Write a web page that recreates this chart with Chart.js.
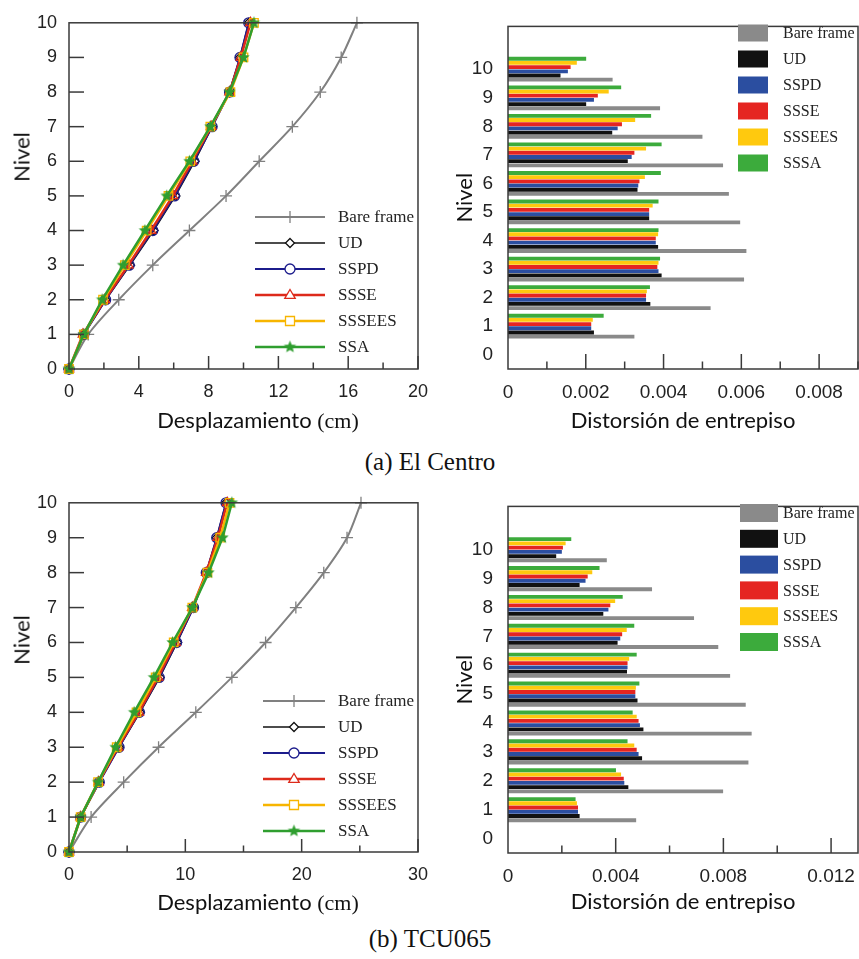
<!DOCTYPE html>
<html>
<head>
<meta charset="utf-8">
<script src="https://cdn.jsdelivr.net/npm/chart.js"></script>
<style>
  body { margin:0; background:#fff; width:859px; height:959px; position:relative; overflow:hidden; }
  canvas { position:absolute; }
  .yt { position:absolute; font:22px Lato, sans-serif; color:#111; transform:translate(-50%,-50%) rotate(-90deg); white-space:nowrap; }
  .xt { position:absolute; width:400px; text-align:center; font:22px Lato, sans-serif; color:#111; white-space:nowrap; }
  .ser { font-family:"Liberation Serif", serif; }
  .cap { position:absolute; left:230px; width:400px; text-align:center; font:25px "Liberation Serif", serif; color:#111; }
</style>
</head>
<body>
<canvas id="c1" width="440" height="440" style="left:0;top:0"></canvas>
<canvas id="c2" width="419" height="440" style="left:440px;top:0"></canvas>
<canvas id="c3" width="440" height="440" style="left:0;top:480px"></canvas>
<canvas id="c4" width="419" height="440" style="left:440px;top:480px"></canvas>
<div class="yt" style="left:21px;top:157px">Nivel</div>
<div class="yt" style="left:21px;top:640px">Nivel</div>
<div class="xt" style="left:58px;top:406px">Desplazamiento <span class="ser">(cm)</span></div>
<div class="xt" style="left:58px;top:888px">Desplazamiento <span class="ser">(cm)</span></div>
<div class="cap" style="top:448px">(a) El Centro</div>
<div class="cap" style="top:925px">(b) TCU065</div>
<script>
const levels  = [0, 1, 2, 3, 4, 5, 6, 7, 8, 9, 10];
const storeys = [1, 2, 3, 4, 5, 6, 7, 8, 9, 10];
const lineNames = ["Bare frame", "UD", "SSPD", "SSSE", "SSSEES", "SSA"];
const barNames  = ["Bare frame", "UD", "SSPD", "SSSE", "SSSEES", "SSSA"];

// (a) El Centro - desplazamiento (cm) por nivel 0..10
const ecDispBare   = [0, 1.1, 2.85, 4.8, 6.9, 9.0, 10.9, 12.8, 14.4, 15.6, 16.5];
const ecDispUD     = [0, 0.85, 2.1, 3.5, 4.85, 6.1, 7.2, 8.2, 9.2, 9.8, 10.3];
const ecDispSSPD   = [0, 0.85, 2.1, 3.45, 4.8, 6.05, 7.15, 8.2, 9.2, 9.8, 10.3];
const ecDispSSSE   = [0, 0.8, 2.05, 3.4, 4.7, 5.95, 7.05, 8.15, 9.2, 9.85, 10.4];
const ecDispSSSEES = [0, 0.85, 1.95, 3.2, 4.45, 5.7, 6.95, 8.1, 9.25, 10.0, 10.6];
const ecDispSSA    = [0, 0.85, 1.9, 3.1, 4.35, 5.6, 6.9, 8.1, 9.2, 10.0, 10.6];

// (a) El Centro - distorsion de entrepiso, niveles 1..10
const ecDriftBare   = [0.00325, 0.00521, 0.00607, 0.00613, 0.00597, 0.00568, 0.00553, 0.0050, 0.00391, 0.00269];
const ecDriftUD     = [0.00221, 0.00366, 0.00395, 0.00386, 0.00363, 0.00333, 0.00308, 0.00268, 0.00201, 0.00135];
const ecDriftSSPD   = [0.00214, 0.00355, 0.00387, 0.0038, 0.00363, 0.00335, 0.00318, 0.00282, 0.00221, 0.00154];
const ecDriftSSSE   = [0.00214, 0.00355, 0.00384, 0.0038, 0.00363, 0.00338, 0.00325, 0.00293, 0.00231, 0.00161];
const ecDriftSSSEES = [0.00218, 0.00357, 0.00387, 0.00386, 0.00372, 0.00352, 0.00355, 0.00327, 0.00259, 0.00177];
const ecDriftSSSA   = [0.00246, 0.00365, 0.00391, 0.00387, 0.00387, 0.00393, 0.00395, 0.00368, 0.00291, 0.00201];

// (b) TCU065 - desplazamiento (cm)
const tcDispBare   = [0, 1.9, 4.7, 7.7, 10.9, 14.0, 16.9, 19.5, 21.9, 23.9, 25.1];
const tcDispUD     = [0, 1.0, 2.6, 4.3, 6.1, 7.8, 9.3, 10.7, 11.8, 12.7, 13.5];
const tcDispSSPD   = [0, 1.0, 2.6, 4.3, 6.05, 7.75, 9.25, 10.7, 11.8, 12.7, 13.5];
const tcDispSSSE   = [0, 1.0, 2.55, 4.2, 6.0, 7.65, 9.15, 10.6, 11.8, 12.8, 13.6];
const tcDispSSSEES = [0, 1.0, 2.5, 4.1, 5.8, 7.45, 9.0, 10.6, 11.9, 13.0, 13.8];
const tcDispSSA    = [0, 1.0, 2.5, 4.0, 5.6, 7.3, 8.9, 10.6, 12.0, 13.2, 14.0];

// (b) TCU065 - distorsion de entrepiso
const tcDriftBare   = [0.00476, 0.00799, 0.00893, 0.00905, 0.00883, 0.00825, 0.00781, 0.00691, 0.00535, 0.00367];
const tcDriftUD     = [0.00266, 0.00447, 0.00498, 0.00503, 0.00481, 0.00442, 0.00407, 0.00354, 0.00266, 0.00179];
const tcDriftSSPD   = [0.0026, 0.00432, 0.00485, 0.0049, 0.00473, 0.00444, 0.00417, 0.00373, 0.00288, 0.0020];
const tcDriftSSSE   = [0.0026, 0.0043, 0.00478, 0.00485, 0.00473, 0.00444, 0.00424, 0.0038, 0.00296, 0.00204];
const tcDriftSSSEES = [0.00256, 0.0042, 0.00469, 0.00478, 0.00475, 0.0045, 0.00441, 0.00398, 0.00313, 0.00214];
const tcDriftSSSA   = [0.00251, 0.00401, 0.00444, 0.00463, 0.00488, 0.00478, 0.00469, 0.00426, 0.0034, 0.00235];

function starImg(color, r) {
  const c = document.createElement("canvas"), s = Math.ceil(r * 2 + 2);
  c.width = c.height = s;
  const g = c.getContext("2d");
  g.beginPath();
  for (let i = 0; i < 10; i++) {
    const rr = i % 2 ? r * 0.45 : r, a = -Math.PI / 2 + i * Math.PI / 5;
    g.lineTo(s / 2 + rr * Math.cos(a), s / 2 + rr * Math.sin(a));
  }
  g.closePath(); g.fillStyle = color; g.fill();
  return c;
}

const LS = [
  { c:"#808080", w:2,   p:"cross",    r:6,   t:0.3 },
  { c:"#111111", w:1.5, p:"rectRot",  r:4.5, t:0 },
  { c:"#1c1c8c", w:2,   p:"circle",   r:5,   t:0 },
  { c:"#dd2a1b", w:2.5, p:"triangle", r:5.5, t:0 },
  { c:"#f7b500", w:2.5, p:"rect",     r:6,   t:0 },
  { c:"#2f9e2f", w:2.5, p:starImg("#2f9e2f", 6.5), r:6, t:0 },
];
const BC = ["#8a8a8a", "#111111", "#2b4ea0", "#e52521", "#ffc90e", "#3cab3c"];

const TICKF = { family:"'Liberation Sans', Arial, sans-serif" };

// marker for the legends
function mark(ctx, st, x, y, r) {
  ctx.beginPath();
  if (st instanceof HTMLCanvasElement) { ctx.drawImage(st, x - st.width / 2, y - st.height / 2); return; }
  if (st === "cross") { ctx.moveTo(x, y - r); ctx.lineTo(x, y + r); ctx.moveTo(x - r, y); ctx.lineTo(x + r, y); ctx.stroke(); return; }
  if (st === "rectRot") { ctx.moveTo(x, y - r); ctx.lineTo(x + r, y); ctx.lineTo(x, y + r); ctx.lineTo(x - r, y); ctx.closePath(); }
  if (st === "circle") ctx.arc(x, y, r, 0, Math.PI * 2);
  if (st === "triangle") { ctx.moveTo(x, y - r); ctx.lineTo(x + r * 0.95, y + r * 0.6); ctx.lineTo(x - r * 0.95, y + r * 0.6); ctx.closePath(); }
  if (st === "rect") { const h = r * 0.75; ctx.rect(x - h, y - h, 2 * h, 2 * h); }
  ctx.fillStyle = "#fff"; ctx.fill(); ctx.stroke();
}

const frameTicks = {
  id: "frameTicks",
  afterDraw(chart, args, o) {
    const { ctx, chartArea: a, scales } = chart;
    ctx.save();
    ctx.strokeStyle = "#3a3a3a"; ctx.lineWidth = 1.5;
    ctx.strokeRect(a.left, a.top, a.right - a.left, a.bottom - a.top);
    const xs = scales.x, n = Math.floor((xs.max - xs.min) / o.xMinor + 1e-6), every = Math.round(o.xMajor / o.xMinor);
    for (let i = 1; i <= n; i++) {
      const px = xs.getPixelForValue(xs.min + i * o.xMinor), len = i % every === 0 ? o.xLen : o.xLen / 2;
      ctx.beginPath(); ctx.moveTo(px, a.bottom); ctx.lineTo(px, a.bottom - len); ctx.stroke();
    }
    if (o.yLen) {
      const ys = scales.y;
      for (let v = ys.min + 1; v < ys.max; v++) {
        const py = ys.getPixelForValue(v);
        ctx.beginPath(); ctx.moveTo(a.left, py); ctx.lineTo(a.left + o.yLen, py); ctx.stroke();
      }
    }
    // legend
    const L = o.legend, ds = chart.data.datasets;
    const idx = L.kind === "box" ? ds.map((d, i) => i).reverse() : ds.map((d, i) => i);
    ctx.textBaseline = "middle"; ctx.textAlign = "left";
    ctx.font = L.font; ctx.fillStyle = "#222";
    idx.forEach((di, k) => {
      const y = L.y0 + k * L.dy, d = ds[di];
      if (L.kind === "box") {
        ctx.fillStyle = d.backgroundColor;
        ctx.fillRect(L.x0, y - L.bh / 2, L.bw, L.bh);
      } else {
        const s = LS[di];
        ctx.strokeStyle = s.c; ctx.lineWidth = s.w;
        ctx.beginPath(); ctx.moveTo(L.x0, y); ctx.lineTo(L.x1, y); ctx.stroke();
        ctx.lineWidth = 1.3;
        mark(ctx, s.p, (L.x0 + L.x1) / 2, y, s.r);
      }
      ctx.fillStyle = "#222";
      ctx.fillText(d.label, L.tx, y + 1);
    });
    ctx.restore();
  }
};

function lineChart(id, arrays, xMax, xStep, xMinor, pad, xH, legend) {
  return new Chart(document.getElementById(id), {
    type: "scatter",
    data: { datasets: arrays.map((arr, i) => ({
      label: lineNames[i],
      data: levels.map((lv, k) => ({ x: arr[k], y: lv })),
      showLine: true, borderColor: LS[i].c, borderWidth: LS[i].w, tension: LS[i].t,
      pointStyle: LS[i].p, pointRadius: LS[i].r, pointBorderColor: LS[i].c, pointBorderWidth: 1.3,
      pointBackgroundColor: "rgba(255,255,255,0)", order: 5 - i, clip: false,
    })) },
    options: {
      responsive: false, animation: false, events: [],
      layout: { padding: pad },
      plugins: { legend: { display: false }, tooltip: { enabled: false },
        frameTicks: { xMajor: xStep, xMinor, xLen: 13, yLen: 15, legend } },
      scales: {
        x: { type: "linear", min: 0, max: xMax, afterFit: s => { s.height = xH; },
             grid: { display: false, drawTicks: false }, border: { display: false },
             ticks: { stepSize: xStep, padding: 12, color: "#222", maxRotation: 0, font: { ...TICKF, size: 18 } } },
        y: { type: "linear", min: 0, max: 10, afterFit: s => { s.width = 69; },
             grid: { display: false, drawTicks: false }, border: { display: false },
             ticks: { stepSize: 1, padding: 12, color: "#222", font: { ...TICKF, size: 18 } } },
      },
    },
    plugins: [frameTicks],
  });
}

function barChart(id, arrays, xMax, xStep, pad, xH, legend, titlePad) {
  const order = [5, 4, 3, 2, 1, 0];
  return new Chart(document.getElementById(id), {
    type: "bar",
    data: { datasets: order.map(i => ({
      label: barNames[i],
      data: storeys.map((lv, k) => ({ x: arrays[i][k], y: lv })),
      backgroundColor: BC[i], borderWidth: 0,
      categoryPercentage: 0.88, barPercentage: 0.92,
    })) },
    options: {
      indexAxis: "y", responsive: false, animation: false, events: [],
      layout: { padding: pad },
      plugins: { legend: { display: false }, tooltip: { enabled: false },
        frameTicks: { xMajor: xStep, xMinor: xStep / 2, xLen: 15, yLen: 0, legend } },
      scales: {
        x: { type: "linear", min: 0, max: xMax,
             afterFit: s => { s.height = xH; s.paddingRight = 0; s.paddingLeft = 0; },
             grid: { display: false, drawTicks: false }, border: { display: false },
             ticks: { stepSize: xStep, includeBounds: false, padding: 12, color: "#222", maxRotation: 0, autoSkip: false,
                      font: { ...TICKF, size: 19 }, callback: v => v === 0 ? "0" : v.toFixed(3) },
             title: { display: true, text: "Distorsión de entrepiso", color: "#111",
                      font: { family: "Lato, sans-serif", size: 22 }, padding: { top: 0, bottom: titlePad } } },
        y: { type: "linear", min: 0, max: 11, afterFit: s => { s.width = 68; },
             grid: { display: false, drawTicks: false }, border: { display: false },
             ticks: { stepSize: 1, includeBounds: false, padding: 15, color: "#222", font: { ...TICKF, size: 19 },
                      callback: v => v > 10 ? "" : String(v) },
             title: { display: true, text: "Nivel", color: "#111",
                      font: { family: "Lato, sans-serif", size: 22 }, padding: { top: 12, bottom: 0 } } },
      },
    },
    plugins: [frameTicks],
  });
}

lineChart("c1", [ecDispBare, ecDispUD, ecDispSSPD, ecDispSSSE, ecDispSSSEES, ecDispSSA], 20, 4, 2,
  { top: 17, right: 17, left: 0, bottom: 0 }, 71,
  { kind: "line", x0: 255, x1: 325, tx: 338, y0: 217, dy: 26, font: "17px 'Liberation Serif', serif" });
lineChart("c3", [tcDispBare, tcDispUD, tcDispSSPD, tcDispSSSE, tcDispSSSEES, tcDispSSA], 30, 10, 5,
  { top: 20, right: 18, left: 0, bottom: 0 }, 68,
  { kind: "line", x0: 263, x1: 325, tx: 338, y0: 221, dy: 26, font: "17px 'Liberation Serif', serif" });
barChart("c2", [ecDriftBare, ecDriftUD, ecDriftSSPD, ecDriftSSSE, ecDriftSSSEES, ecDriftSSSA], 0.009, 0.002,
  { top: 18, right: 1, left: 0, bottom: 0 }, 71,
  { kind: "box", x0: 298, bw: 30, bh: 17, tx: 343, y0: 33, dy: 26, font: "16px 'Liberation Serif', serif" }, 6);
barChart("c4", [tcDriftBare, tcDriftUD, tcDriftSSPD, tcDriftSSSE, tcDriftSSSEES, tcDriftSSSA], 0.013, 0.004,
  { top: 18, right: 1, left: 0, bottom: 0 }, 67,
  { kind: "box", x0: 300, bw: 38, bh: 18, tx: 343, y0: 33, dy: 25.8, font: "16px 'Liberation Serif', serif" }, 5);
</script>
</body>
</html>
